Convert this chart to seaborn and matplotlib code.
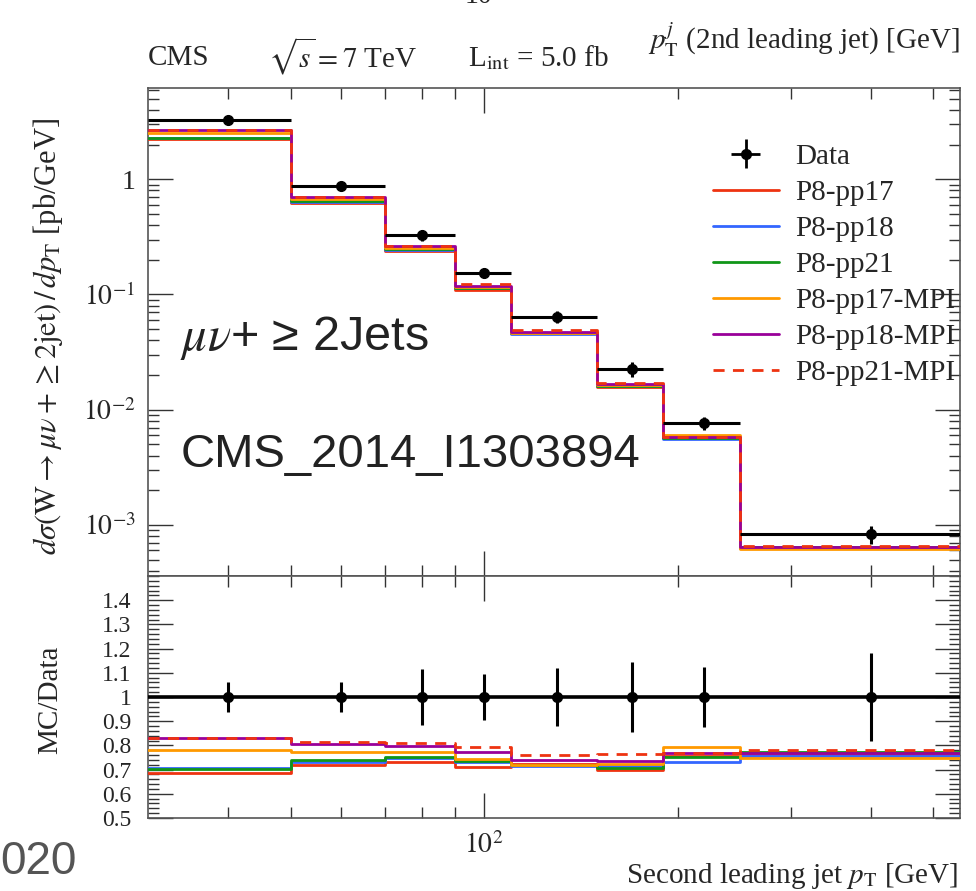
import numpy as np
import matplotlib
matplotlib.use("Agg")
import matplotlib.pyplot as plt
import matplotlib.ticker as mticker
from matplotlib.lines import Line2D
import seaborn as sns

# ---------------- data ----------------
bin_edges = [30, 50, 70, 90, 110, 150, 190, 250, 550]
bin_centers = [40, 60, 80, 100, 130, 170, 220, 400]
data_vals = [3.25, 0.87, 0.327, 0.155, 0.064, 0.0225, 0.0076, 8.3e-4]
data_relerr = [0.062, 0.060, 0.117, 0.097, 0.120, 0.143, 0.126, 0.180]

series_names = ["P8-pp17", "P8-pp18", "P8-pp21", "P8-pp17-MPI", "P8-pp18-MPI", "P8-pp21-MPI"]
ratio_pp17 = [0.686, 0.717, 0.731, 0.709, 0.724, 0.697, 0.755, 0.760]
ratio_pp18 = [0.707, 0.730, 0.746, 0.733, 0.714, 0.716, 0.730, 0.757]
ratio_pp21 = [0.702, 0.738, 0.753, 0.735, 0.718, 0.708, 0.754, 0.774]
ratio_pp17_mpi = [0.779, 0.774, 0.771, 0.744, 0.720, 0.722, 0.793, 0.746]
ratio_pp18_mpi = [0.830, 0.805, 0.798, 0.772, 0.740, 0.736, 0.768, 0.768]
ratio_pp21_mpi = [0.830, 0.814, 0.809, 0.793, 0.762, 0.765, 0.767, 0.783]
ratios = [ratio_pp17, ratio_pp18, ratio_pp21, ratio_pp17_mpi, ratio_pp18_mpi, ratio_pp21_mpi]

colors = ["#EE3311", "#3366FF", "#109618", "#FF9900", "#990099", "#EE3311"]
styles = ["-", "-", "-", "-", "-", (0, (4, 3))]

# ---------------- style ----------------
sns.set_theme(style="white")
plt.rcParams["font.family"] = ["Liberation Serif", "DejaVu Serif"]
plt.rcParams["mathtext.fontset"] = "stix"

fig = plt.figure(figsize=(9.76, 8.91), dpi=100)
W, H = 976, 891
def fx(px): return px / W
def fy(py): return 1 - py / H

ax = fig.add_axes([fx(148), fy(576), fx(960) - fx(148), fy(88) - fy(576)])
axr = fig.add_axes([fx(148), fy(818), fx(960) - fx(148), fy(576) - fy(818)], sharex=ax)

edges = np.array(bin_edges, dtype=float)
dvals = np.array(data_vals)
centers = np.array(bin_centers, dtype=float)
rerr = np.array(data_relerr)

def step(axis, vals, color, ls, zorder=3):
    y = np.append(vals, vals[-1])
    sns.lineplot(x=edges, y=y, ax=axis, drawstyle="steps-post", estimator=None,
                 sort=False, color=color, linestyle=ls, linewidth=2.0,
                 legend=False, zorder=zorder)

# MC in main panel (MC = ratio * data)
for r, c, s in zip(ratios, colors, styles):
    step(ax, np.array(r) * dvals, c, s)

# data in main panel
xerr = np.vstack([centers - edges[:-1], edges[1:] - centers])
ax.errorbar(centers, dvals, xerr=xerr, yerr=dvals * rerr, fmt="o", color="black",
            markersize=7, elinewidth=2.2, capsize=0, zorder=5)

ax.set_xscale("log")
ax.set_yscale("log")
ax.set_xlim(30, 550)
ax.set_ylim(3.6e-4, 6.2)

# ratio panel
for r, c, s in zip(ratios, colors, styles):
    step(axr, np.array(r), c, s)
axr.axhline(1.0, color="black", linewidth=2.6, zorder=4)
axr.errorbar(centers, np.ones_like(centers), yerr=rerr, fmt="o", color="black",
             markersize=7, elinewidth=2.2, capsize=0, zorder=5)
axr.set_ylim(0.5, 1.5)

# ---------------- ticks ----------------
for a in (ax, axr):
    a.tick_params(which="both", direction="in", top=True, right=True,
                  bottom=True, left=True, color="#333333", width=1.0)
    a.tick_params(which="major", length=18)
    a.tick_params(which="minor", length=8)
    for sp in a.spines.values():
        sp.set_color("#555555")
        sp.set_linewidth(1.2)

ax.yaxis.set_major_locator(mticker.FixedLocator([1e-3, 1e-2, 1e-1, 1]))
ax.yaxis.set_minor_locator(mticker.LogLocator(base=10, subs=np.arange(2, 10)))
def yfmt(v, pos):
    e = int(round(np.log10(v)))
    return "1" if e == 0 else r"$10^{%d}$" % e
ax.yaxis.set_major_formatter(mticker.FuncFormatter(yfmt))
ax.yaxis.set_minor_formatter(mticker.NullFormatter())
ax.tick_params(axis="x", which="both", labelbottom=False)
ax.tick_params(axis="y", labelsize=20, pad=9)

axr.xaxis.set_major_locator(mticker.FixedLocator([100]))
axr.xaxis.set_minor_locator(mticker.FixedLocator([40, 50, 60, 70, 80, 90, 200, 300, 400, 500]))
axr.xaxis.set_major_formatter(mticker.FixedFormatter([r"$10^{2}$"]))
axr.xaxis.set_minor_formatter(mticker.NullFormatter())
axr.tick_params(axis="x", labelsize=20, pad=10)

rt = [0.5, 0.6, 0.7, 0.8, 0.9, 1.0, 1.1, 1.2, 1.3, 1.4]
axr.yaxis.set_major_locator(mticker.FixedLocator(rt))
axr.yaxis.set_major_formatter(mticker.FixedFormatter(["0.5", "0.6", "0.7", "0.8", "0.9", "1", "1.1", "1.2", "1.3", "1.4"]))
axr.yaxis.set_minor_locator(mticker.MultipleLocator(0.02))
axr.tick_params(axis="y", labelsize=17, pad=12)

# ---------------- labels ----------------
sans = ["Liberation Sans", "DejaVu Sans"]
fig.text(fx(48), fy(336),
         r"$d\sigma(\mathrm{W}\rightarrow\mu\nu+\geq2\mathrm{jet})\,/\,dp_\mathrm{T}$ [pb/GeV]",
         rotation=90, ha="center", va="center", fontsize=22)
fig.text(fx(50), fy(700), "MC/Data", rotation=90, ha="center", va="center", fontsize=21)
fig.text(fx(958), fy(876), r"Second leading jet $p_\mathrm{T}$ [GeV]", ha="right",
         va="center", fontsize=21)

fig.text(fx(148), fy(58), "CMS", ha="left", va="center", fontsize=21)
fig.text(fx(268), fy(56), r"$\sqrt{s} = 7$ TeV", ha="left", va="center", fontsize=21)
fig.text(fx(468), fy(58), r"L$_\mathrm{int}$ = 5.0 fb", ha="left", va="center", fontsize=21)
fig.text(fx(960), fy(40), r"$p_\mathrm{T}^{j}$ (2nd leading jet) [GeV]", ha="right",
         va="center", fontsize=21)
fig.text(fx(478), fy(-3), "10", ha="center", va="center", fontsize=20)

fig.text(fx(180), fy(338), r"$\mu\nu$+ ≥ 2Jets", ha="left", va="center", fontsize=35,
         color="#222222", family=sans)
fig.text(fx(181), fy(455), "CMS_2014_I1303894", ha="left", va="center", fontsize=34,
         color="#222222", family=sans)
fig.text(fx(0), fy(862), "020", ha="left", va="center", fontsize=33,
         color="#555555", family=sans)

# ---------------- legend ----------------
handles = [ax.errorbar([], [], xerr=[], yerr=[], fmt="o", color="black", markersize=7,
                       elinewidth=2.0, capsize=0)]
for c, s in zip(colors, styles):
    handles.append(Line2D([], [], color=c, linestyle=s, linewidth=2.0))
labels = ["Data"] + series_names
ax.legend(handles, labels, loc="upper left",
          bbox_to_anchor=((713 - 148) / (960 - 148), 0.886),
          frameon=False, fontsize=21, handlelength=2.25, handletextpad=0.58,
          labelspacing=0.33, borderpad=0, borderaxespad=0)

fig.savefig("out.png", dpi=100)
